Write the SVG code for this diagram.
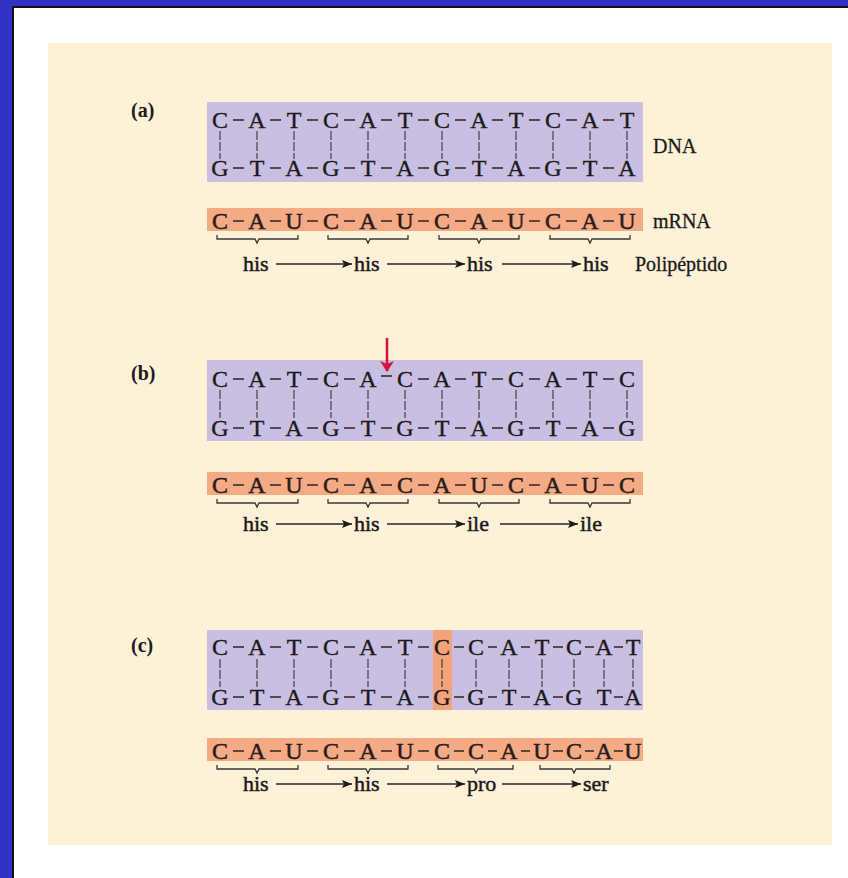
<svg xmlns="http://www.w3.org/2000/svg" xmlns:xlink="http://www.w3.org/1999/xlink" width="848" height="878" viewBox="0 0 848 878">
<style>
.b{font-family:"Liberation Serif","Times New Roman",serif;fill:#1c1a1a;stroke:#1c1a1a;stroke-width:0.35;font-size:24px;text-anchor:middle}
.m{font-family:"Liberation Serif","Times New Roman",serif;fill:#2a1c16;stroke:#2a1c16;stroke-width:0.5;font-size:24px;text-anchor:middle}
.lab{font-family:"Liberation Serif","Times New Roman",serif;fill:#1c1a1a;font-size:20px;font-weight:bold}
.aa{font-family:"Liberation Serif","Times New Roman",serif;fill:#1c1a1a;stroke:#1c1a1a;stroke-width:0.45;font-size:22px}
.side{font-family:"Liberation Serif","Times New Roman",serif;fill:#1c1a1a;stroke:#1c1a1a;stroke-width:0.3;font-size:20px}
.dash{stroke:#2a2626;stroke-width:1.5;fill:none}
.vl{stroke:#3a3636;stroke-width:1.1;fill:none;stroke-dasharray:9 2}
.br{stroke:#3a3636;stroke-width:1.3;fill:none}
.ar{stroke:#2a2626;stroke-width:1.3;fill:none;marker-end:url(#ah)}
.dna{fill:#C8BFE3}
.rna{fill:#F5AA86}
</style>
<defs>
<marker id="ah" markerUnits="userSpaceOnUse" markerWidth="10" markerHeight="10" viewBox="0 0 10 10" refX="10" refY="5" orient="auto">
<path d="M0,1 L10,5 L0,9 L2,5 Z" fill="#1c1a1a"/>
</marker>
<marker id="rh" markerUnits="userSpaceOnUse" markerWidth="14" markerHeight="14" viewBox="0 0 14 14" refX="7" refY="13" orient="0">
<path d="M0,3 L7,14 L14,3 L7,6 Z" fill="#D4143C"/>
</marker>
<path id="d12" class="dash" d="M233 0h11M270 0h11M307 0h11M344 0h11M381 0h11M418 0h11M455 0h11M492 0h11M529 0h11M566 0h11M603 0h11"/>
<path id="v12" class="vl" d="M220 0v28M257 0v28M294 0v28M331 0v28M368 0v28M405 0v28M442 0v28M479 0v28M516 0v28M553 0v28M590 0v28M627 0v28"/>
<path id="v13" class="vl" d="M220 0v28M257 0v28M294 0v28M331 0v28M368 0v28M405 0v28M442 0v28M476 0v28M509 0v28M542 0v28M574 0v28M604 0v28M633 0v28"/>
</defs>

<rect x="0" y="0" width="848" height="878" fill="#3330C6"/>
<rect x="12" y="6" width="836" height="872" fill="#111"/>
<rect x="14" y="8" width="834" height="870" fill="#FFFFFF"/>
<rect x="48" y="43" width="784" height="802" fill="#FDF1D8"/>

<g id="panel-a">
<text class="lab" x="131" y="117">(a)</text>
<g id="a-dna">
<rect class="dna" x="207" y="102" width="436" height="80"/>
<text class="b" x="220 257 294 331 368 405 442 479 516 553 590 627" y="128">CATCATCATCAT</text>
<text class="b" x="220 257 294 331 368 405 442 479 516 553 590 627" y="176">GTAGTAGTAGTA</text>
<use xlink:href="#d12" y="120"/>
<use xlink:href="#d12" y="168"/>
<use xlink:href="#v12" y="131"/>
<text class="side" x="653" y="153">DNA</text>
</g>
<g id="a-mrna">
<rect class="rna" x="207" y="208" width="436" height="23"/>
<text class="m" x="220 257 294 331 368 405 442 479 516 553 590 627" y="229">CAUCAUCAUCAU</text>
<use xlink:href="#d12" y="221"/>
<text class="side" x="653" y="228">mRNA</text>
<path class="br" d="M217 235v4h38l2 4l2-4h39v-4M328 235v4h38l2 4l2-4h38v-4M439 235v4h38l2 4l2-4h38v-4M550 235v4h38l2 4l2-4h38v-4"/>
</g>
<g id="a-protein">
<text class="aa" x="243" y="271">his</text>
<text class="aa" x="354" y="271">his</text>
<text class="aa" x="467" y="271">his</text>
<text class="aa" x="583" y="271">his</text>
<text class="side" x="635" y="271">Polipéptido</text>
</g>
</g>

<g id="panel-b">
<text class="lab" x="131" y="380">(b)</text>
<g id="b-dna">
<rect class="dna" x="207" y="360" width="436" height="81"/>
<text class="b" x="220 257 294 331 368 405 442 479 516 553 590 627" y="387">CATCACATCATC</text>
<text class="b" x="220 257 294 331 368 405 442 479 516 553 590 627" y="436">GTAGTGTAGTAG</text>
<path class="dash" d="M233 379h11M270 379h11M307 379h11M344 379h11M381 376h11M418 379h11M455 379h11M492 379h11M529 379h11M566 379h11M603 379h11"/>
<use xlink:href="#d12" y="428"/>
<use xlink:href="#v12" y="390"/>
</g>
<g id="b-mutation">
<line x1="387" y1="338" x2="387" y2="371" stroke="#D4143C" stroke-width="2.6" marker-end="url(#rh)"/>
</g>
<g id="b-mrna">
<rect class="rna" x="207" y="472" width="436" height="23"/>
<text class="m" x="220 257 294 331 368 405 442 479 516 553 590 627" y="493">CAUCACAUCAUC</text>
<use xlink:href="#d12" y="485"/>
<path class="br" d="M217 499v4h38l2 4l2-4h39v-4M328 499v4h38l2 4l2-4h38v-4M439 499v4h38l2 4l2-4h38v-4M550 499v4h38l2 4l2-4h38v-4"/>
</g>
<g id="b-protein">
<text class="aa" x="243" y="531">his</text>
<text class="aa" x="354" y="531">his</text>
<text class="aa" x="467" y="531">ile</text>
<text class="aa" x="580" y="531">ile</text>
</g>
</g>

<g id="panel-c">
<text class="lab" x="131" y="652">(c)</text>
<g id="c-dna">
<rect class="dna" x="207" y="630" width="436" height="80"/>
<rect x="433" y="630" width="19" height="80" fill="#F3A27A"/>
<text class="b" x="220 257 294 331 368 405 442 476 509 542 574 604 633" y="655">CATCATCCATCAT</text>
<text class="b" x="220 257 294 331 368 405 442 476 509 542 574 604 633" y="705">GTAGTAGGTAGTA</text>
<path class="dash" d="M233 647h11M270 647h11M307 647h11M344 647h11M381 647h11M418 647h11M454 647h10M488 647h9M521 647h9M553 647h10M585 647h9M614 647h9"/>
<path class="dash" d="M233 697h11M270 697h11M307 697h11M344 697h11M381 697h11M418 697h11M454 697h10M488 697h9M521 697h9M553 697h10M614 697h9"/>
<use xlink:href="#v13" y="659"/>
</g>
<g id="c-mrna">
<rect class="rna" x="207" y="738" width="436" height="23"/>
<text class="m" x="220 257 294 331 368 405 442 476 509 542 574 604 633" y="759">CAUCAUCCAUCAU</text>
<path class="dash" d="M233 751h11M270 751h11M307 751h11M344 751h11M381 751h11M418 751h11M454 751h10M488 751h9M521 751h9M553 751h10M585 751h9M614 751h9"/>
<path class="br" d="M217 765v4h38l2 4l2-4h39v-4M328 765v4h38l2 4l2-4h38v-4M438 765v4h36l2 4l2-4h35v-4M540 765v4h32l2 4l2-4h34v-4"/>
</g>
<g id="c-protein">
<text class="aa" x="243" y="791">his</text>
<text class="aa" x="354" y="791">his</text>
<text class="aa" x="467" y="791">pro</text>
<text class="aa" x="583" y="791">ser</text>
</g>
</g>

<g id="connectors">
<path class="ar" d="M276 264H352"/>
<path class="ar" d="M387 264H465"/>
<path class="ar" d="M502 264H581"/>
<path class="ar" d="M276 524H352"/>
<path class="ar" d="M387 524H465"/>
<path class="ar" d="M500 524H578"/>
<path class="ar" d="M276 784H352"/>
<path class="ar" d="M387 784H465"/>
<path class="ar" d="M502 784H581"/>
</g>
</svg>
